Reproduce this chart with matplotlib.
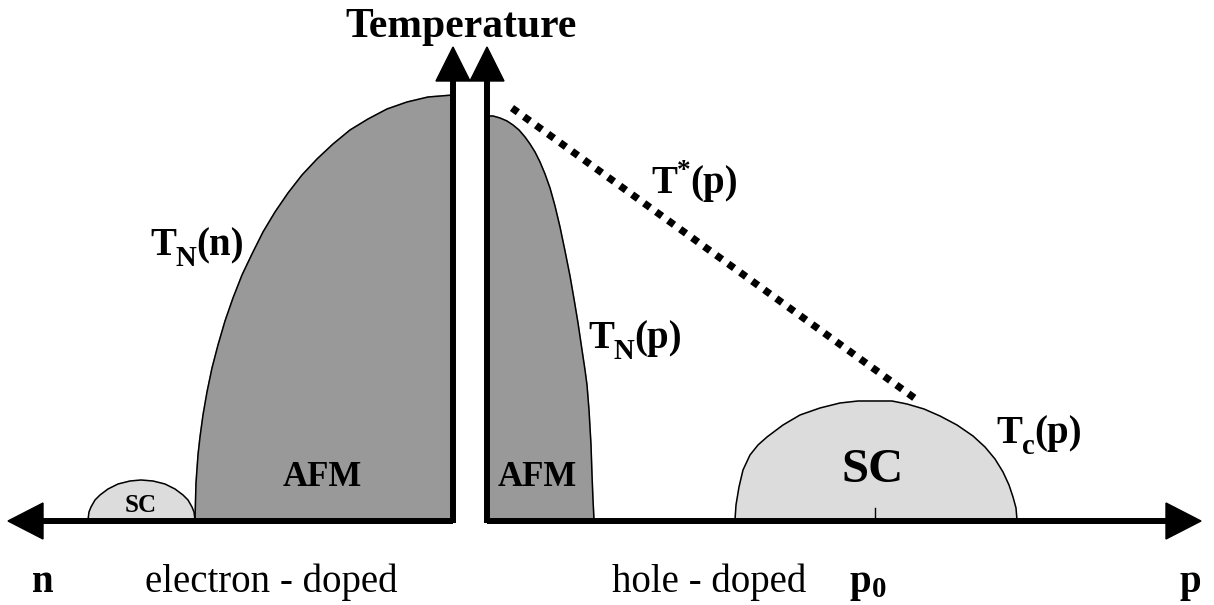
import matplotlib
matplotlib.use('Agg')
import matplotlib.pyplot as plt

plt.rcParams['font.family'] = ['Liberation Serif', 'DejaVu Serif']

# boundaries (x = doping position, y = pixel height from top)
afm_n_x = [195, 196, 198, 200, 203, 207, 212, 218, 225, 233, 242, 252, 263, 275, 288, 302, 317, 333, 350, 368, 387, 407, 428, 453]
afm_n_y = [520, 483, 455, 437, 415, 392, 368, 345, 321, 298, 275, 254, 232, 212, 193, 175, 159, 144, 130, 119, 109, 102, 97, 95]

afm_p_x = [487, 493, 500, 507, 513, 519, 525, 530, 535, 540, 545, 550, 555, 560, 565, 570, 574, 578, 582, 585, 587, 589, 591, 592, 593, 594]
afm_p_y = [116, 116, 118, 121, 125, 130, 137, 144, 152, 162, 174, 188, 206, 227, 251, 276, 299, 323, 350, 370, 385, 410, 445, 475, 500, 520]

sc_n_x = [88, 89, 91, 95, 100, 108, 118, 130, 141, 153, 165, 175, 183, 188, 192, 194, 195]
sc_n_y = [520, 512, 507, 500, 495, 489, 484, 481, 480, 481, 484, 489, 495, 500, 507, 512, 520]

sc_p_x = [735, 736, 739, 743, 750, 758, 767, 783, 800, 820, 840, 858, 875, 892, 907, 924, 940, 957, 973, 985, 995, 1003, 1009, 1013, 1016, 1017]
sc_p_y = [520, 505, 487, 470, 455, 445, 437, 425, 415, 408, 403, 401, 401, 401, 404, 409, 416, 425, 436, 447, 459, 472, 485, 497, 508, 520]

tstar_x = [512, 920]
tstar_y = [108, 402]

base_y = 521
axis_n_x = 453
axis_p_x = 487
p0_x = 875

fig = plt.figure(figsize=(12.14, 6.05), dpi=100)
ax = fig.add_axes([0, 0, 1, 1])
ax.set_xlim(0, 1214)
ax.set_ylim(605, 0)
ax.axis('off')
renderer = fig.canvas.get_renderer()

dark = '#999999'
light = '#dcdcdc'


def label(x, y, parts, size=28, drop=11):
    # parts: (text, kind) with kind '' / 'sub' / 'sup'
    for txt, kind in parts:
        fs, dy = size, 0
        if kind == 'sub':
            fs, dy = size * 0.74, drop
        elif kind == 'sup':
            fs, dy = size * 0.7, -15
        t = ax.text(x, y + dy, txt, fontsize=fs, fontweight='bold', ha='left', va='baseline')
        x += t.get_window_extent(renderer).width


# AFM regions
ax.fill(afm_n_x + [axis_n_x], afm_n_y + [base_y], color=dark, zorder=1)
ax.plot(afm_n_x, afm_n_y, color='black', lw=1.1, zorder=2)
ax.fill([axis_p_x] + afm_p_x + [axis_p_x], [base_y] + afm_p_y + [base_y], color=dark, zorder=1)
ax.plot(afm_p_x, afm_p_y, color='black', lw=1.1, zorder=2)

# SC domes
ax.fill(sc_n_x, sc_n_y, color=light, zorder=1)
ax.plot(sc_n_x, sc_n_y, color='black', lw=1.1, zorder=2)
ax.fill(sc_p_x, sc_p_y, color=light, zorder=1)
ax.plot(sc_p_x, sc_p_y, color='black', lw=1.1, zorder=2)

# pseudogap line
ax.plot(tstar_x, tstar_y, color='black', lw=5.2, linestyle=(0, (1, 1.05)),
        dash_capstyle='butt', zorder=3)

# doping axes
ax.plot([43, axis_n_x], [base_y, base_y], color='black', lw=4.3, solid_capstyle='butt', zorder=4)
ax.plot([axis_p_x, 1166], [base_y, base_y], color='black', lw=4.3, solid_capstyle='butt', zorder=4)
ax.fill([8, 43, 43], [base_y, 503, 539], color='black', zorder=4)
ax.fill([1201, 1166, 1166], [base_y, 503, 539], color='black', zorder=4)

# temperature axes
for xa in [axis_n_x, axis_p_x]:
    ax.plot([xa, xa], [base_y + 2, 80], color='black', lw=4.3, solid_capstyle='butt', zorder=4)
    ax.fill([xa - 17, xa, xa + 17], [81, 47, 81], color='black', zorder=4)

# p0 tick
ax.plot([p0_x, p0_x], [508, base_y], color='black', lw=1.0, zorder=4)

# labels
ax.text(461, 37, 'Temperature', fontsize=30, fontweight='bold', ha='center', va='baseline')
label(150, 255, [('T', ''), ('N', 'sub'), ('(n)', '')])
label(588, 348, [('T', ''), ('N', 'sub'), ('(p)', '')])
label(651, 193, [('T', ''), ('*', 'sup'), ('(p)', '')])
label(996, 443, [('T', ''), ('c', 'sub'), ('(p)', '')])
ax.text(322, 486, 'AFM', fontsize=25, fontweight='bold', ha='center', va='baseline')
ax.text(537, 486, 'AFM', fontsize=25, fontweight='bold', ha='center', va='baseline')
ax.text(873, 482, 'SC', fontsize=35, fontweight='bold', ha='center', va='baseline')
ax.text(141, 512, 'SC', fontsize=18, fontweight='bold', ha='center', va='baseline')

ax.text(43, 592, 'n', fontsize=28, fontweight='bold', ha='center', va='baseline')
ax.text(145, 592, 'electron - doped', fontsize=28, ha='left', va='baseline')
ax.text(612, 592, 'hole - doped', fontsize=28, ha='left', va='baseline')
label(850, 592, [('p', ''), ('0', 'sub')], drop=5)
ax.text(1190, 592, 'p', fontsize=28, fontweight='bold', ha='center', va='baseline')

fig.savefig('out.png', dpi=100)
